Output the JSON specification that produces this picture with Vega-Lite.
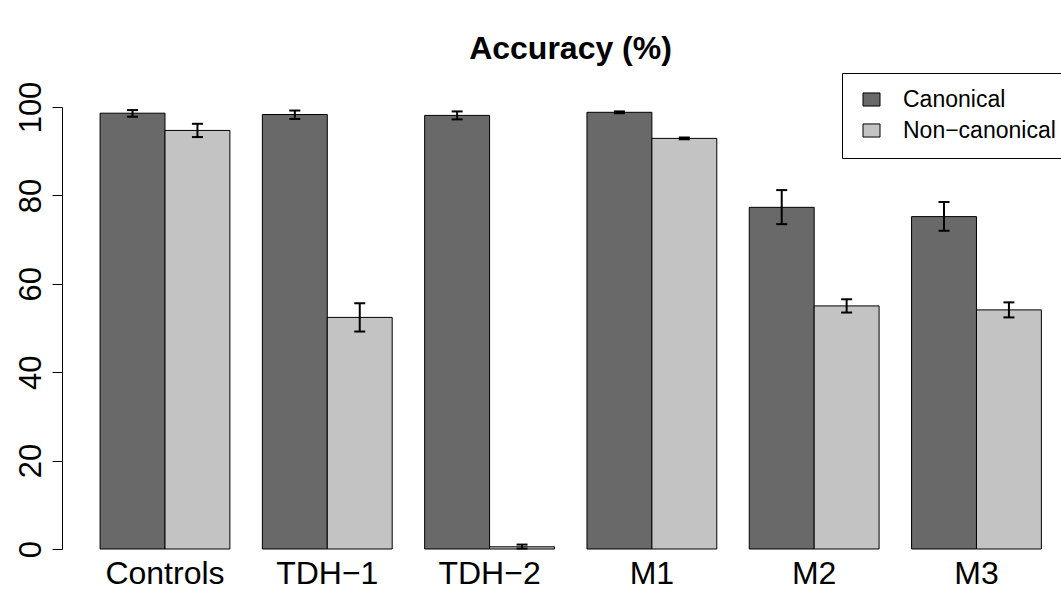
{
  "$schema": "https://vega.github.io/schema/vega-lite/v6.json",
  "width": 999,
  "height": 442,
  "autosize": {"type": "none"},
  "padding": {"left": 62, "top": 107, "right": 0, "bottom": 44},
  "background": "white",
  "title": {"text": "Accuracy (%)", "font": "Liberation Sans", "fontSize": 32, "fontWeight": "bold", "anchor": "middle", "dx": 9, "offset": -18, "baseline": "alphabetic", "color": "black"},
  "config": {"view": {"stroke": null}, "font": "Liberation Sans"},
  "data": {"values": [
    {"group": "Controls", "type": "Canonical", "value": 98.6, "lo": 97.8, "hi": 99.3},
    {"group": "Controls", "type": "Non−canonical", "value": 94.7, "lo": 93.2, "hi": 96.2},
    {"group": "TDH−1", "type": "Canonical", "value": 98.3, "lo": 97.3, "hi": 99.2},
    {"group": "TDH−1", "type": "Non−canonical", "value": 52.4, "lo": 49.2, "hi": 55.6},
    {"group": "TDH−2", "type": "Canonical", "value": 98.1, "lo": 97.2, "hi": 99.0},
    {"group": "TDH−2", "type": "Non−canonical", "value": 0.5, "lo": 0.1, "hi": 1.0},
    {"group": "M1", "type": "Canonical", "value": 98.8, "lo": 98.6, "hi": 99.0},
    {"group": "M1", "type": "Non−canonical", "value": 92.9, "lo": 92.7, "hi": 93.1},
    {"group": "M2", "type": "Canonical", "value": 77.3, "lo": 73.5, "hi": 81.2},
    {"group": "M2", "type": "Non−canonical", "value": 55.0, "lo": 53.5, "hi": 56.5},
    {"group": "M3", "type": "Canonical", "value": 75.2, "lo": 72.0, "hi": 78.5},
    {"group": "M3", "type": "Non−canonical", "value": 54.1, "lo": 52.4, "hi": 55.8}
  ]},
  "encoding": {
    "x": {"field": "group", "type": "nominal", "sort": ["Controls", "TDH−1", "TDH−2", "M1", "M2", "M3"],
      "scale": {"paddingInner": 0.2, "paddingOuter": 0.1777, "align": 0.66},
      "axis": {"title": null, "labelAngle": 0, "domain": false, "ticks": false, "tickSize": 0, "labelFontSize": 32, "labelFont": "Liberation Sans", "labelColor": "black", "labelPadding": 34, "labelBaseline": "alphabetic"}},
    "xOffset": {"field": "type", "type": "nominal", "sort": ["Canonical", "Non−canonical"], "scale": {"paddingInner": 0, "paddingOuter": 0}}
  },
  "layer": [
    {
      "mark": {"type": "bar", "stroke": "black", "strokeWidth": 1},
      "encoding": {
        "y": {"field": "value", "type": "quantitative", "scale": {"domain": [0, 100], "nice": false},
          "axis": {"title": null, "values": [0, 20, 40, 60, 80, 100], "labelAngle": 270, "labelAlign": "center", "labelBaseline": "alphabetic", "labelFontSize": 31, "labelFont": "Liberation Sans", "labelColor": "black", "tickSize": 10, "tickColor": "black", "domainColor": "black", "grid": false, "labelPadding": 12, "labelFlush": false, "labelOverlap": false}},
        "color": {"field": "type", "type": "nominal", "sort": ["Canonical", "Non−canonical"],
          "scale": {"domain": ["Canonical", "Non−canonical"], "range": ["#696969", "#c3c3c3"]},
          "legend": {"orient": "none", "legendX": 780, "legendY": -34, "title": null, "strokeColor": "black", "padding": 15, "symbolType": "M-1,-0.77H1V0.77H-1Z", "symbolSize": 289, "symbolStrokeColor": "black", "symbolStrokeWidth": 1, "symbolOffset": 3, "labelFontSize": 23, "labelFont": "Liberation Sans", "labelOffset": 20, "rowPadding": 7, "labelColor": "black", "symbolOpacity": 1}}
      }
    },
    {
      "mark": {"type": "rule", "color": "black", "strokeWidth": 2},
      "encoding": {"y": {"field": "lo", "type": "quantitative"}, "y2": {"field": "hi"}}
    },
    {
      "mark": {"type": "tick", "color": "black", "thickness": 2, "size": 11, "opacity": 1},
      "encoding": {"y": {"field": "lo", "type": "quantitative"}}
    },
    {
      "mark": {"type": "tick", "color": "black", "thickness": 2, "size": 11, "opacity": 1},
      "encoding": {"y": {"field": "hi", "type": "quantitative"}}
    }
  ]
}
